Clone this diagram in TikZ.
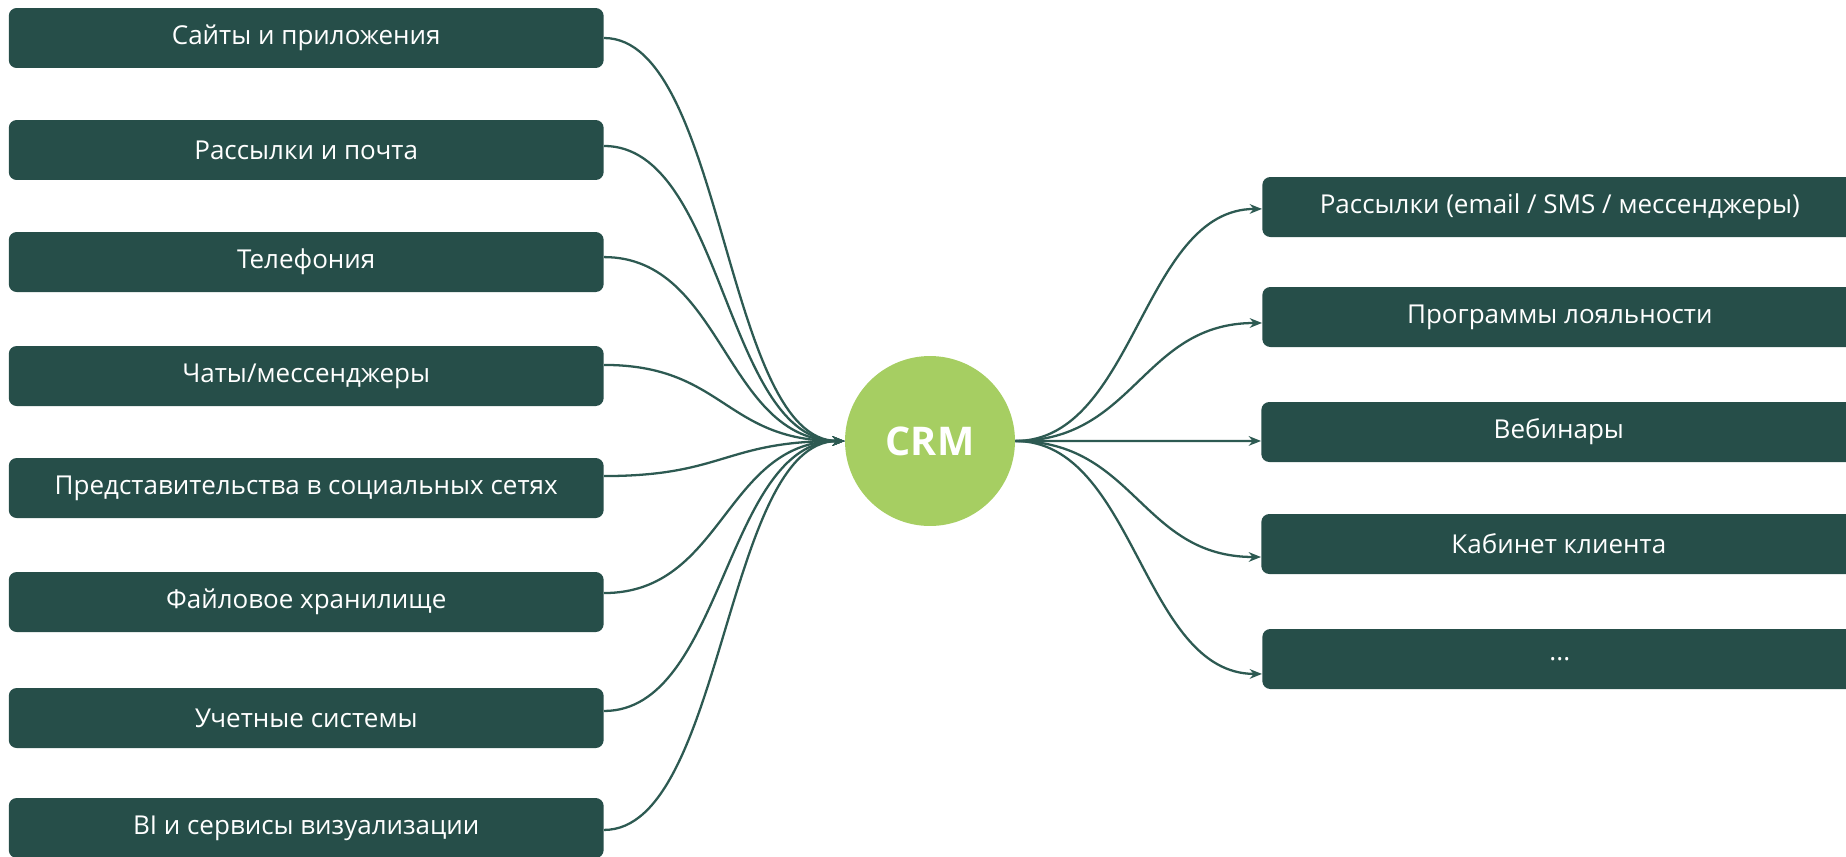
\documentclass[tikz,border=0pt]{standalone}
\usepackage{fontspec}
\setmainfont{Open Sans}
\usetikzlibrary{arrows.meta}
\definecolor{boxgreen}{HTML}{264E49}
\definecolor{linegreen}{HTML}{2D5A52}
\definecolor{crmgreen}{HTML}{A6CE62}
\begin{document}
\begin{tikzpicture}[x=0.02cm,y=-0.02cm,%
  src/.style={fill=boxgreen,rounded corners=4.5pt,minimum width=11.9cm,minimum height=1.2cm,inner sep=0pt,text=white,font=\fontsize{14.8}{17}\selectfont,anchor=east},%
  dst/.style={src,anchor=west},%
  hub/.style={circle,fill=crmgreen,minimum size=3.4cm,inner sep=0pt,text=white,font=\bfseries\fontsize{22.5}{25}\selectfont},%
  link/.style={draw=linegreen,line width=1.3pt,-{Stealth[length=7pt,width=5.5pt]}}]%
\useasboundingbox (0,0) rectangle (1846,856);%
\clip (0,0) rectangle (1846,856);%
%
\def\bend{120};%
\node[hub] (crm) at (930,441) {CRM};%
%
\node[src] (s1) at (604,38) {Сайты и приложения};%
\node[src] (s2) at (604,150) {Рассылки и почта};%
\node[src] (s3) at (604,262) {Телефония};%
\node[src] (s4) at (604,376) {Чаты/мессенджеры};%
\node[src] (s5) at (604,488) {Представительства в социальных сетях};%
\node[src] (s6) at (604,602) {Файловое хранилище};%
\node[src] (s7) at (604,718) {Учетные системы};%
\node[src] (s8) at (604,828) {BI и сервисы визуализации};%
%
\node[dst] (d1) at (1262,207) {Рассылки (email / SMS / мессенджеры)};%
\node[dst] (d2) at (1262,317) {Программы лояльности};%
\node[dst] (d3) at (1261,432) {Вебинары};%
\node[dst] (d4) at (1261,544) {Кабинет клиента};%
\node[dst] (d5) at (1262,659) {...};%
%
\draw[link] (s1.east) .. controls +(\bend,0) and +(-\bend,0) .. (crm.west);%
\draw[link] ([yshift=2.3pt]s2.east) .. controls +(\bend,0) and +(-\bend,0) .. (crm.west);%
\draw[link] ([yshift=2.8pt]s3.east) .. controls +(\bend,0) and +(-\bend,0) .. (crm.west);%
\draw[link] ([yshift=6.3pt]s4.east) .. controls +(\bend,0) and +(-\bend,0) .. (crm.west);%
\draw[link] ([yshift=6.8pt]s5.east) .. controls +(\bend,0) and +(-\bend,0) .. (crm.west);%
\draw[link] ([yshift=5.1pt]s6.east) .. controls +(\bend,0) and +(-\bend,0) .. (crm.west);%
\draw[link] ([yshift=4pt]s7.east) .. controls +(\bend,0) and +(-\bend,0) .. (crm.west);%
\draw[link] ([yshift=-1.1pt]s8.east) .. controls +(\bend,0) and +(-\bend,0) .. (crm.west);%
%
\draw[link] (crm.east) .. controls +(\bend,0) and +(-\bend,0) .. ([yshift=-1.1pt]d1.west);%
\draw[link] (crm.east) .. controls +(\bend,0) and +(-\bend,0) .. ([yshift=-3.4pt]d2.west);%
\draw[link] (crm.east) .. controls +(\bend,0) and +(-\bend,0) .. ([yshift=-5.1pt]d3.west);%
\draw[link] (crm.east) .. controls +(\bend,0) and +(-\bend,0) .. ([yshift=-7.4pt]d4.west);%
\draw[link] (crm.east) .. controls +(\bend,0) and +(-\bend,0) .. ([yshift=-8.5pt]d5.west);%
%
\end{tikzpicture}
\end{document}
